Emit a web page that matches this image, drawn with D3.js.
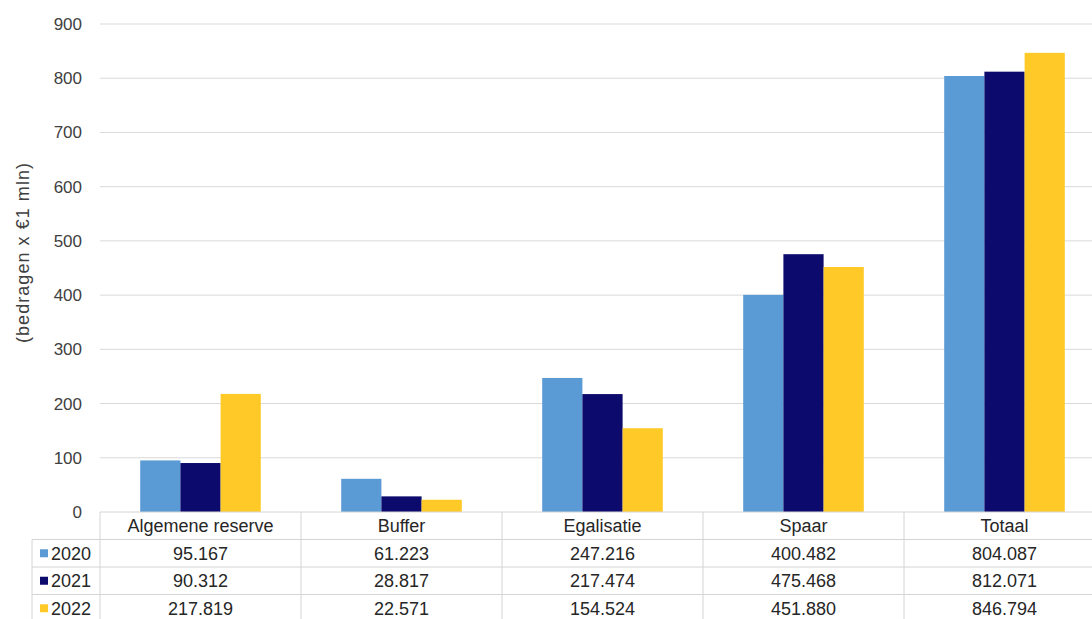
<!DOCTYPE html>
<html>
<head>
<meta charset="utf-8">
<script src="https://cdn.jsdelivr.net/npm/d3@7"></script>
<style>
  body { margin: 0; background: #fff; }
  svg { display: block; font-family: "Liberation Sans", Arial, sans-serif; }
</style>
</head>
<body>
<svg id="chart" width="1092" height="619"></svg>
<script>
const categories = ["Algemene reserve", "Buffer", "Egalisatie", "Spaar", "Totaal"];
const years = ["2020", "2021", "2022"];
const values2020 = [95.167, 61.223, 247.216, 400.482, 804.087];
const values2021 = [90.312, 28.817, 217.474, 475.468, 812.071];
const values2022 = [217.819, 22.571, 154.524, 451.880, 846.794];
const yTicks = [0, 100, 200, 300, 400, 500, 600, 700, 800, 900];

const series = [values2020, values2021, values2022];
const COLORS = ["#5b9bd5", "#0c0a6c", "#ffca28"];

const svg = d3.select("#chart");

// plot area
const LEFT = 100, RIGHT = 1105, TOP = 24, BOTTOM = 512;
const ROW_H = 27.5;

const x = d3.scaleBand().domain(categories).range([LEFT, RIGHT]);
// group of bars takes ~60% of the band
const groupW = x.bandwidth() * 0.6;
const xs = d3.scaleBand().domain(years)
  .range([(x.bandwidth() - groupW) / 2, (x.bandwidth() + groupW) / 2]);

const y = d3.scaleLinear().domain([0, 900]).range([BOTTOM, TOP]);

// gridlines
svg.append("g")
  .selectAll("line")
  .data(yTicks.filter(t => t > 0))
  .enter()
  .append("line")
  .attr("x1", LEFT)
  .attr("x2", 1092)
  .attr("y1", d => y(d))
  .attr("y2", d => y(d))
  .attr("stroke", "#d9d9d9")
  .attr("stroke-width", 1);

// y axis
const yAxis = svg.append("g")
  .attr("transform", `translate(${LEFT},0)`)
  .call(d3.axisLeft(y).tickValues(yTicks).tickSize(0).tickPadding(18));
yAxis.select(".domain").remove();
yAxis.selectAll("text")
  .attr("font-size", "17px")
  .attr("fill", "#404040")
  .attr("font-family", "Liberation Sans, Arial, sans-serif");

svg.append("text")
  .attr("transform", `translate(29,253) rotate(-90)`)
  .attr("text-anchor", "middle")
  .attr("font-size", "18px")
  .attr("textLength", 180)
  .attr("lengthAdjust", "spacing")
  .attr("fill", "#404040")
  .text("(bedragen x €1 mln)");

// bars
series.forEach((vals, si) => {
  svg.append("g")
    .selectAll("rect")
    .data(vals)
    .enter()
    .append("rect")
    .attr("x", (d, i) => x(categories[i]) + xs(years[si]))
    .attr("width", xs.bandwidth())
    .attr("y", d => y(d))
    .attr("height", d => y(0) - y(d))
    .attr("fill", COLORS[si]);
});

// data table
const LEG_X = 32;
const table = svg.append("g");
const lineColor = "#d4d4d4";

// horizontal lines
table.append("line")
  .attr("x1", LEFT).attr("x2", 1092)
  .attr("y1", BOTTOM).attr("y2", BOTTOM)
  .attr("stroke", lineColor);
[1, 2, 3].forEach(r => {
  table.append("line")
    .attr("x1", LEG_X).attr("x2", 1092)
    .attr("y1", BOTTOM + r * ROW_H).attr("y2", BOTTOM + r * ROW_H)
    .attr("stroke", lineColor);
});
// vertical lines
table.append("line")
  .attr("x1", LEG_X).attr("x2", LEG_X)
  .attr("y1", BOTTOM + ROW_H).attr("y2", 619)
  .attr("stroke", lineColor);
categories.forEach(c => {
  table.append("line")
    .attr("x1", x(c)).attr("x2", x(c))
    .attr("y1", BOTTOM).attr("y2", 619)
    .attr("stroke", lineColor);
});

// header
table.selectAll("text.cat")
  .data(categories)
  .enter()
  .append("text")
  .attr("class", "cat")
  .attr("x", d => x(d) + x.bandwidth() / 2)
  .attr("y", BOTTOM + ROW_H / 2)
  .attr("dy", "0.35em")
  .attr("text-anchor", "middle")
  .attr("font-size", "18px")
  .attr("fill", "#262626")
  .text(d => d);

// value rows
const fmt = d3.format(".3f");
series.forEach((vals, si) => {
  const rowY = BOTTOM + (si + 1) * ROW_H + ROW_H / 2;
  table.append("rect")
    .attr("x", 40).attr("y", rowY - 4)
    .attr("width", 8).attr("height", 8)
    .attr("fill", COLORS[si]);
  table.append("text")
    .attr("x", 51).attr("y", rowY)
    .attr("dy", "0.35em")
    .attr("font-size", "18px")
    .attr("fill", "#262626")
    .text(years[si]);
  table.append("g")
    .selectAll("text")
    .data(vals)
    .enter()
    .append("text")
    .attr("x", (d, i) => x(categories[i]) + x.bandwidth() / 2)
    .attr("y", rowY)
    .attr("dy", "0.35em")
    .attr("text-anchor", "middle")
    .attr("font-size", "18px")
    .attr("fill", "#262626")
    .text(d => fmt(d));
});
</script>
</body>
</html>
